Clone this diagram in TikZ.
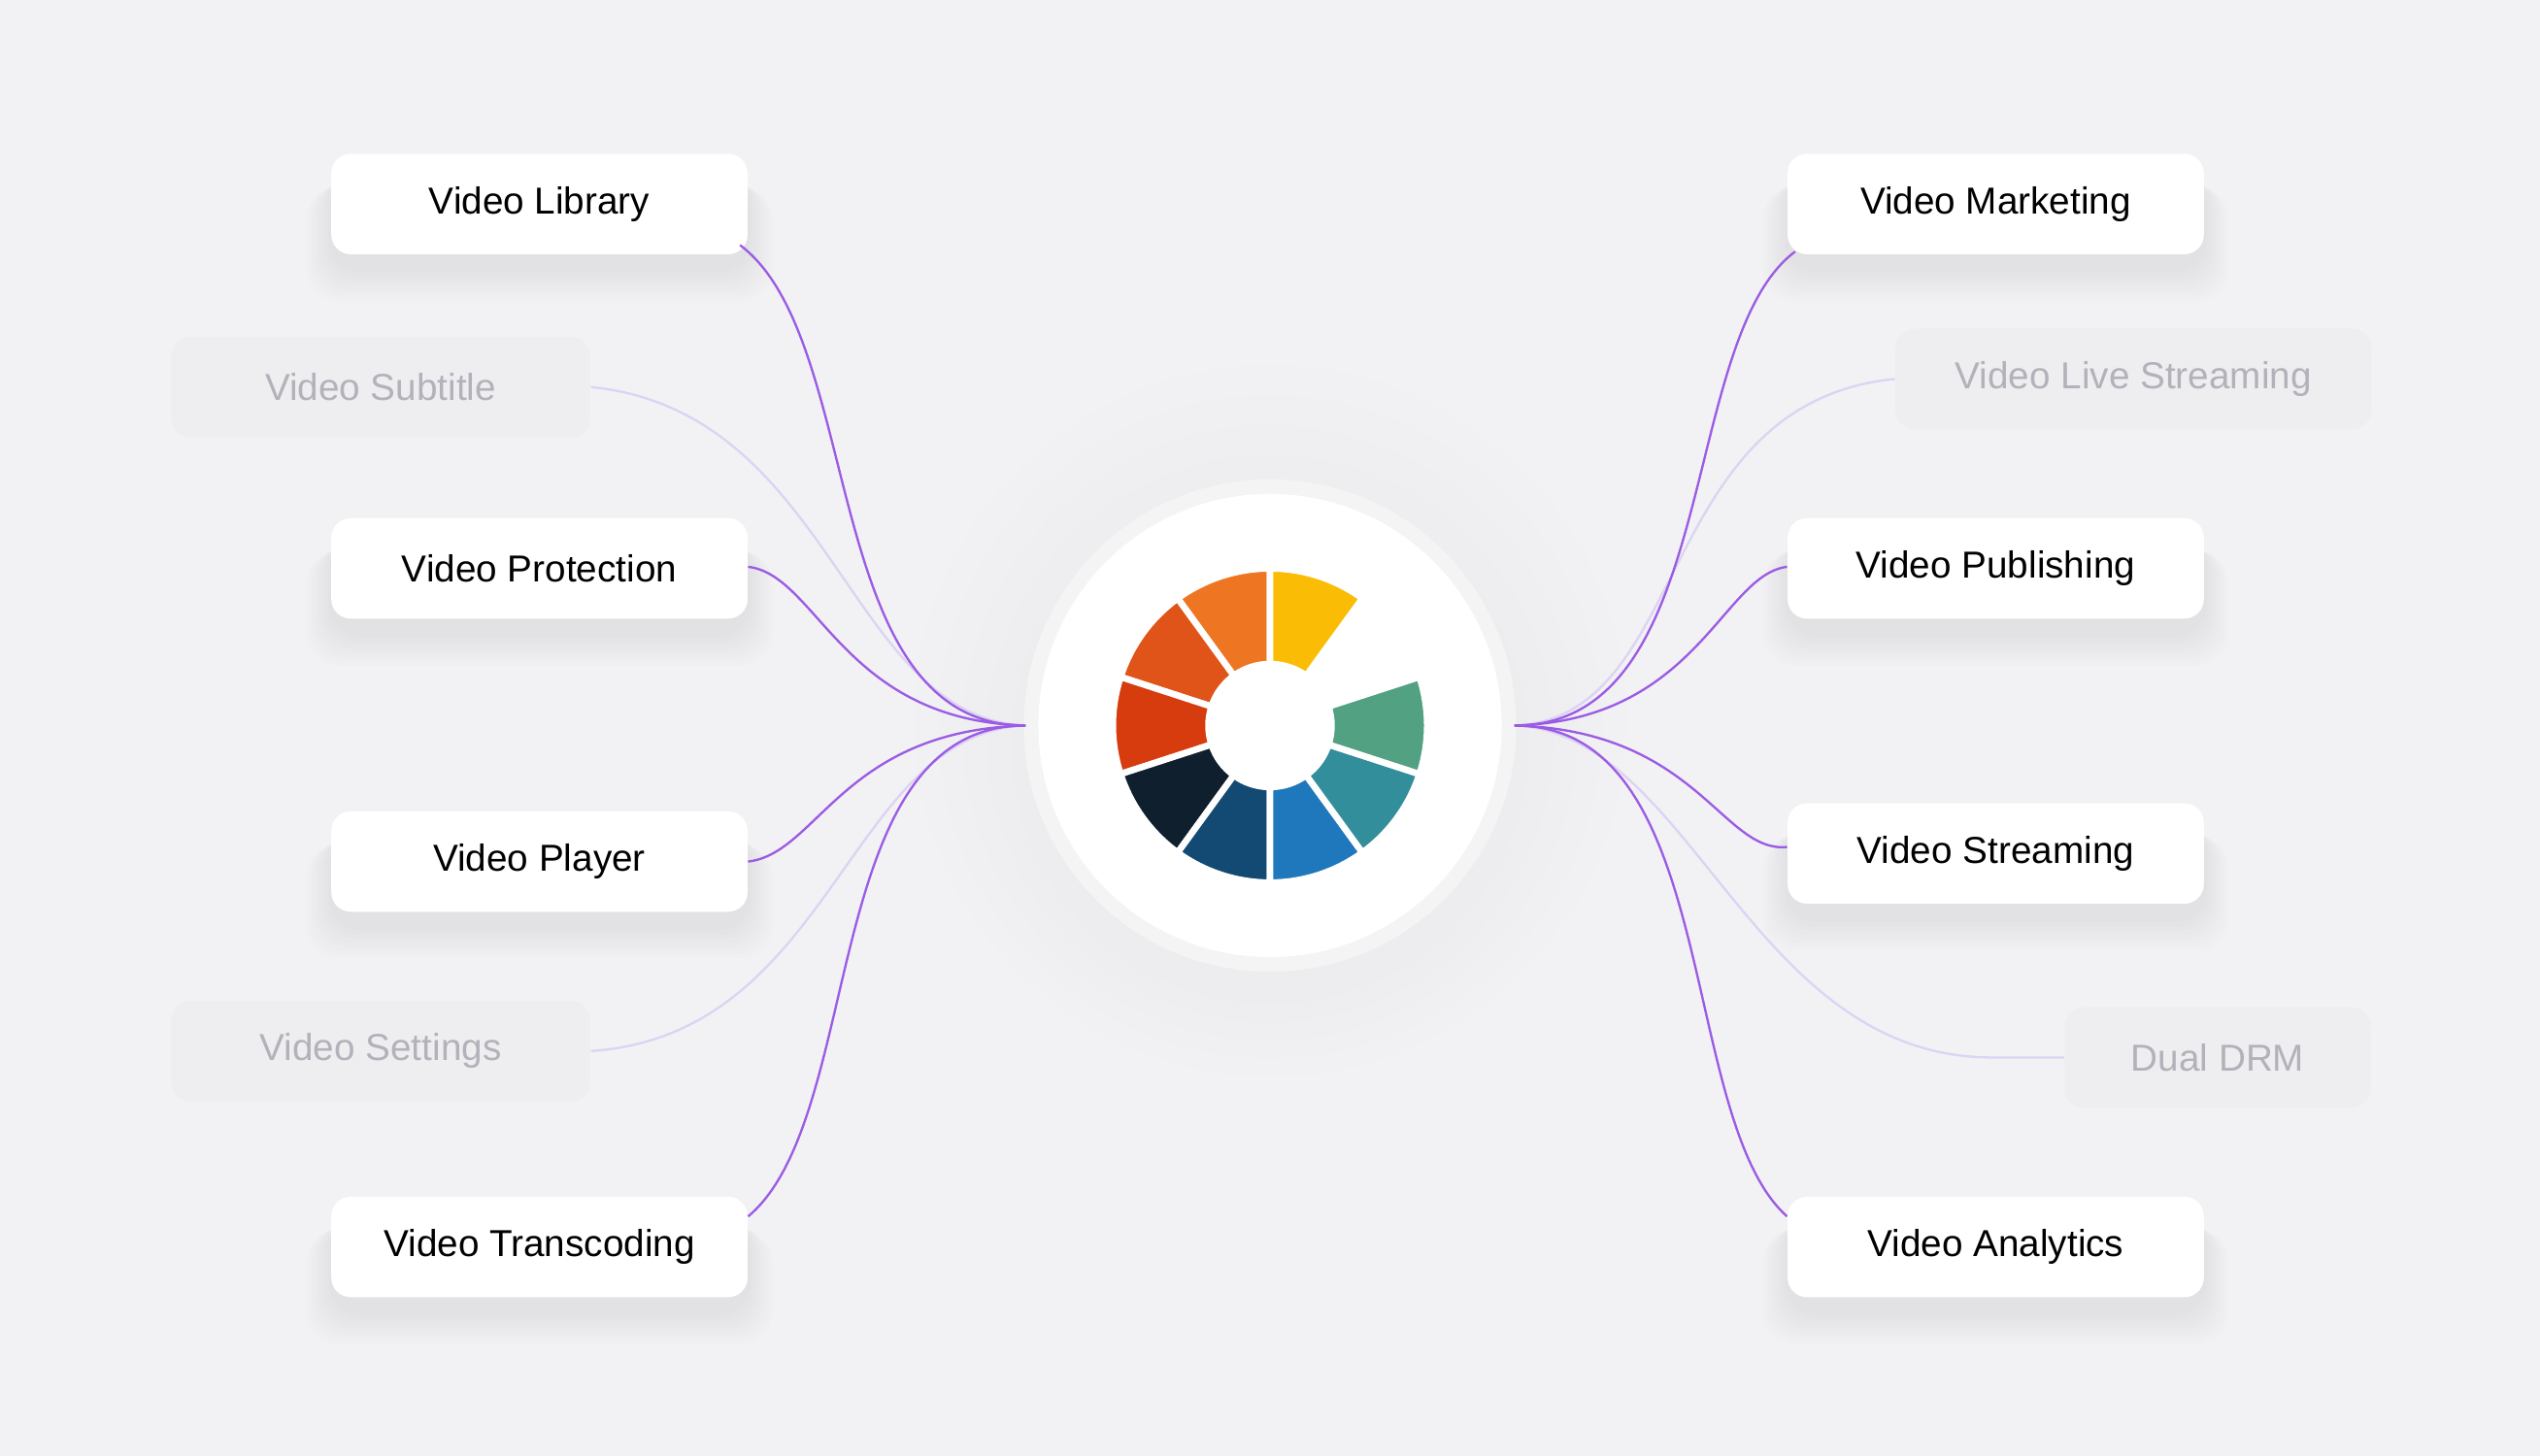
\documentclass[tikz,border=0pt]{standalone}
\usepackage{fontspec}
\setmainfont{Liberation Sans}
\usetikzlibrary{calc}
\definecolor{bg}{HTML}{F2F2F4}
\definecolor{pur}{HTML}{9B5CE4}
\definecolor{lpur}{HTML}{DDD3F3}
\definecolor{fbox}{HTML}{EEEEF1}
\definecolor{ftxt}{HTML}{B2B2BA}
\tikzset{
 card/.style={rectangle,rounded corners=0.24cm,fill=white,minimum width=5.14cm,minimum height=1.24cm,font=\fontsize{13.2}{16}\selectfont,text=black},
 fcard/.style={rectangle,rounded corners=0.24cm,fill=fbox,minimum height=1.24cm,font=\fontsize{13.2}{16}\selectfont,text=ftxt},
 link/.style={pur,line width=0.8pt},
 flink/.style={lpur,line width=0.8pt},
 seg/.style={draw=white,line width=0.08cm,line join=miter}
}
\begin{document}
\begin{tikzpicture}[x=0.02cm,y=-0.02cm]
\fill[bg] (0,0) rectangle (1568,899);
\useasboundingbox (0,0) rectangle (1568,899);
% glow
\foreach \r in {220,205,...,150}{\fill[black,opacity=0.005] (784,500-\r*0.25) circle (\r);}
\fill[black!4.5] (784,448) circle (152);
\fill[white] (784,448) circle (143);
% card shadows
\foreach \x/\y in {333/126,333/351,333/532,333/770,1232/126,1232/351,1232/527,1232/770}{
 \foreach \i in {1,...,8}{
  \fill[black,opacity=0.007,rounded corners=0.4cm] (\x-128-\i*2,\y-20+\i*1.2) rectangle (\x+128+\i*2,\y+40+\i*2.5);
 }
}
\coordinate (hl) at (633,448);
\coordinate (hr) at (935,448);
% nodes
\node[card] (lib) at (333,126) {Video Library};
\node[fcard,minimum width=5.18cm] (sub) at (235,239) {Video Subtitle};
\node[card] (pro) at (333,351) {Video Protection};
\node[card] (pla) at (333,532) {Video Player};
\node[fcard,minimum width=5.18cm] (set) at (235,649) {Video Settings};
\node[card] (tra) at (333,770) {Video Transcoding};
\node[card] (mar) at (1232,126) {Video Marketing};
\node[fcard,minimum width=5.88cm] (liv) at (1317,234) {Video Live Streaming};
\node[card] (pub) at (1232,351) {Video Publishing};
\node[card] (str) at (1232,527) {Video Streaming};
\node[fcard,minimum width=3.78cm] (drm) at (1369,653) {Dual DRM};
\node[card] (ana) at (1232,770) {Video Analytics};
% links left
\draw[flink] (sub.east) .. controls +(150,15) and +(-110,-5) .. (hl);
\draw[flink] (set.east) .. controls +(150,-10) and +(-110,5) .. (hl);
\draw[link] ([xshift=-0.1cm,yshift=0.12cm]lib.south east) .. controls (535,210) and (505,448) .. (hl);
\draw[link] ([yshift=0.02cm]pro.east) .. controls (505,355) and (520,445) .. (hl);
\draw[link] (pla.east) .. controls (505,527) and (520,451) .. (hl);
\draw[link] ([yshift=-0.25cm]tra.north east) .. controls (535,690) and (505,448) .. (hl);
% links right
\draw[flink] (liv.west) .. controls +(-150,15) and +(110,-5) .. (hr);
\draw[flink] (drm.west) -- (1230,653) .. controls +(-150,0) and +(110,5) .. (hr);
\draw[link] ([xshift=0.1cm,yshift=0.04cm]mar.south west) .. controls (1035,210) and (1063,448) .. (hr);
\draw[link] ([yshift=0.02cm]pub.west) .. controls (1063,355) and (1048,445) .. (hr);
\draw[link] ([yshift=0.08cm]str.west) .. controls (1063,527) and (1048,451) .. (hr);
\draw[link] ([yshift=-0.25cm]ana.north west) .. controls (1035,690) and (1063,448) .. (hr);
% wheel
\foreach \a/\b/\c in {90/126/EE7623,126/162/E05419,162/198/D63C0E,198/234/0F1F2E,234/270/124A73,270/306/1F78BC,306/342/338E9C,342/378/52A182,54/90/FBBC05}{
 \definecolor{sc}{HTML}{\c}
 \filldraw[seg,fill=sc] (784,448) ++(-\a:38) arc[start angle=-\a,end angle=-\b,radius=38] -- ($(784,448)+(-\b:97)$) arc[start angle=-\b,end angle=-\a,radius=97] -- cycle;
}
\end{tikzpicture}
\end{document}
